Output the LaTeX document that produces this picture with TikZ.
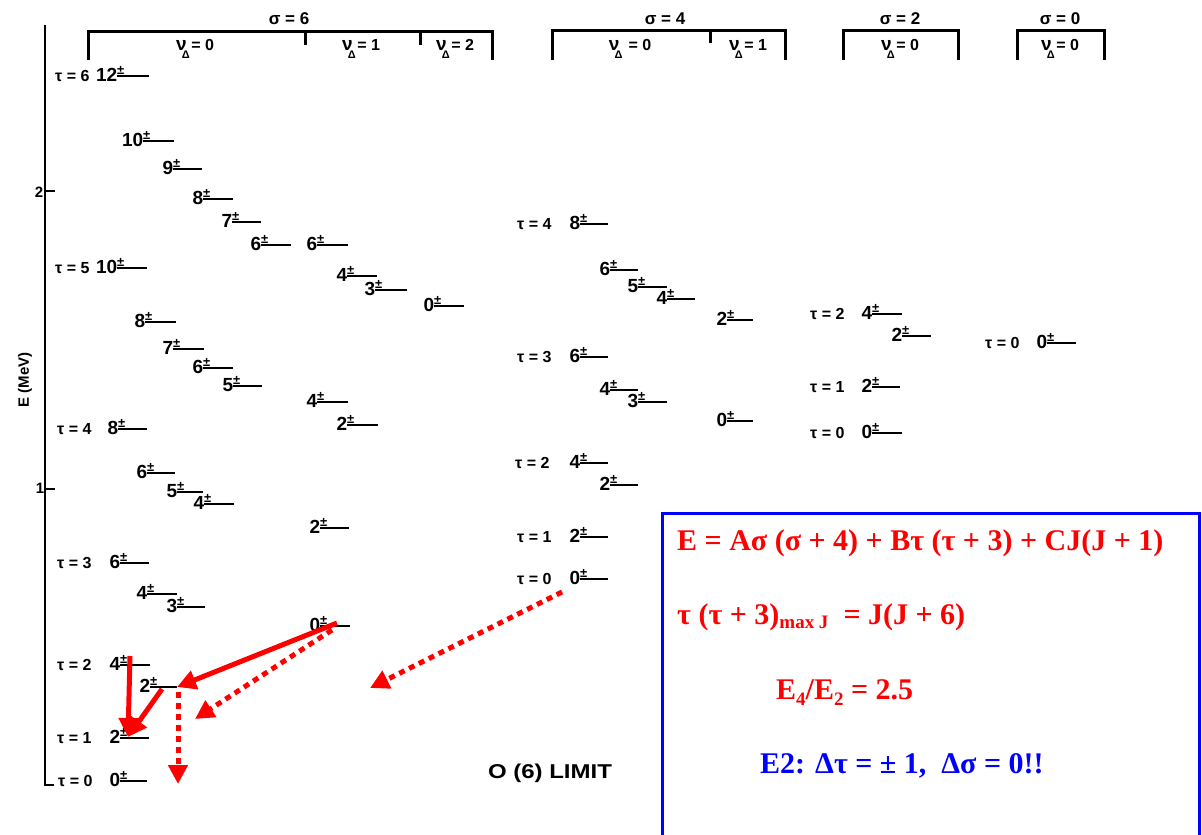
\documentclass[tikz,border=0pt]{standalone}
\usepackage{fontspec}
\setmainfont{Liberation Sans}
\newfontfamily\eqfont{Liberation Serif}
\usetikzlibrary{arrows.meta}
\definecolor{trred}{RGB}{255,0,0}
\definecolor{frameblue}{RGB}{0,0,255}

% one energy level: name, left x, right x, height, spin
\newcommand\lvl[5]{%
  \draw[level] (#2,#4) coordinate (#1w) -- (#3,#4) coordinate (#1e);
  \node[jlab,anchor=base east] (#1j) at (#2+0.5,#4+5) {#5};
  \node[pmlab,anchor=base west] (#1p) at (#2,#4-2) {±};
}
% nu with Delta subscript set just below it
\newcommand\nuD{{\fontsize{19}{19}\selectfont ν}\kern-0.3em\raisebox{-8.5pt}{\fontsize{11}{11}\selectfont Δ}\kern0.1em}

\begin{document}
\begin{tikzpicture}[x=1pt,y=-1pt,
  level/.style={line width=2.5pt},
  bracket/.style={line width=3pt},
  axisline/.style={line width=2.5pt},
  jlab/.style={inner sep=0pt,font=\fontsize{19}{19}\selectfont\bfseries},
  pmlab/.style={inner sep=0pt,font=\fontsize{13}{13}\selectfont\bfseries},
  taulab/.style={inner sep=0pt,anchor=base west,font=\fontsize{16}{16}\selectfont\bfseries},
  headlab/.style={inner sep=0pt,font=\fontsize{17}{17}\selectfont\bfseries},
  sublab/.style={inner sep=0pt,anchor=base,font=\fontsize{16}{16}\selectfont\bfseries},
  ticklab/.style={inner sep=0pt,font=\fontsize{15}{15}\selectfont\bfseries},
  e2/.style={draw=trred,line width=5pt,-{Triangle[length=19pt,width=19pt]}},
  e2dot/.style={e2,dash pattern=on 6pt off 5pt},
  eqred/.style={inner sep=0pt,anchor=base west,text=trred,font=\eqfont\fontsize{30}{30}\selectfont\bfseries},
  eqblue/.style={eqred,text=frameblue},
]
\useasboundingbox (0,0) rectangle (1202,835);
\fill[white] (0,0) rectangle (1202,835);

% energy axis
\draw[axisline] (45,25) -- (45,785) -- (54,785);
\draw[axisline] (45,191) -- (55,191);
\draw[axisline] (45,489) -- (55,489);
\node[ticklab] (tick2) at (39,192) {2};
\node[ticklab] (tick1) at (40,488) {1};
\node[ticklab,rotate=90] (eaxis) at (25,380) {E (MeV)};

% column headers
\draw[bracket] (88,60) -- (88,31) -- (492,31) -- (492,60);
\draw[bracket] (305,31) -- (305,45);
\draw[bracket] (420,31) -- (420,45);
\node[headlab] (sig6) at (289,19) {σ = 6};
\node[sublab] (s6n0) at (195,50) {\nuD= 0};
\node[sublab] (s6n1) at (361,50) {\nuD= 1};
\node[sublab] (s6n2) at (455,50) {\nuD= 2};

\draw[bracket] (552,60) -- (552,30) -- (785,30) -- (785,60);
\draw[bracket] (710,30) -- (710,43);
\node[headlab] (sig4) at (665,19) {σ = 4};
\node[sublab] (s4n0) at (630,50) {\nuD\ = 0};
\node[sublab] (s4n1) at (748,50) {\nuD= 1};

\draw[bracket] (843,60) -- (843,30) -- (958,30) -- (958,60);
\node[headlab] (sig2) at (900,19) {σ = 2};
\node[sublab] (s2n0) at (900,50) {\nuD= 0};

\draw[bracket] (1017,60) -- (1017,30) -- (1104,30) -- (1104,60);
\node[headlab] (sig0) at (1060,19) {σ = 0};
\node[sublab] (s0n0) at (1060,50) {\nuD= 0};

% sigma = 6, nu = 0
\node[taulab] (ta6) at (55,81) {τ = 6};
\lvl{a12}{117}{149}{76}{12}
\lvl{a10}{143}{174}{141}{10}
\lvl{a9}{173}{202}{169}{9}
\lvl{a8}{203}{233}{199}{8}
\lvl{a7}{232}{261}{222}{7}
\lvl{a6}{261}{291}{245}{6}
\node[taulab] (ta5) at (55,273) {τ = 5};
\lvl{b10}{117}{147}{268}{10}
\lvl{b8}{145}{176}{322}{8}
\lvl{b7}{173}{204}{349}{7}
\lvl{b6}{203}{233}{368}{6}
\lvl{b5}{233}{262}{386}{5}
\node[taulab] (ta4) at (57,434) {τ = 4};
\lvl{c8}{118}{147}{429}{8}
\lvl{c6}{147}{175}{473}{6}
\lvl{c5}{177}{203}{492}{5}
\lvl{c4}{204}{234}{504}{4}
\node[taulab] (ta3) at (57,568) {τ = 3};
\lvl{d6}{120}{149}{563}{6}
\lvl{d4}{147}{177}{594}{4}
\lvl{d3}{177}{205}{607}{3}
\node[taulab] (ta2) at (57,670) {τ = 2};
\lvl{e4}{120}{150}{665}{4}
\lvl{e2}{150}{177}{687}{2}
\node[taulab] (ta1) at (57,743) {τ = 1};
\lvl{f2}{120}{149}{738}{2}
\node[taulab] (ta0) at (58,786) {τ = 0};
\lvl{g0}{120}{147}{781}{0}

% sigma = 6, nu = 1 and 2
\lvl{h6}{317}{348}{245}{6}
\lvl{h4}{347}{377}{276}{4}
\lvl{h3}{375}{407}{290}{3}
\lvl{i4}{317}{348}{402}{4}
\lvl{i2}{347}{378}{425}{2}
\lvl{j2}{320}{349}{528}{2}
\lvl{k0}{320}{350}{626}{0}
\lvl{m0}{434}{464}{306}{0}

% sigma = 4
\node[taulab] (tb4) at (517,229) {τ = 4};
\lvl{n8}{580}{608}{224}{8}
\lvl{n6}{610}{638}{270}{6}
\lvl{n5}{638}{667}{287}{5}
\lvl{n4}{667}{695}{299}{4}
\lvl{o2}{727}{753}{320}{2}
\node[taulab] (tb3) at (517,362) {τ = 3};
\lvl{p6}{580}{608}{357}{6}
\lvl{p4}{610}{638}{390}{4}
\lvl{p3}{638}{667}{402}{3}
\lvl{q0}{727}{753}{421}{0}
\node[taulab] (tb2) at (515,468) {τ = 2};
\lvl{r4}{580}{608}{463}{4}
\lvl{r2}{610}{638}{485}{2}
\node[taulab] (tb1) at (517,542) {τ = 1};
\lvl{s2}{580}{608}{537}{2}
\node[taulab] (tb0) at (517,584) {τ = 0};
\lvl{t0}{580}{608}{579}{0}

% sigma = 2
\node[taulab] (tc2) at (810,319) {τ = 2};
\lvl{u4}{872}{902}{314}{4}
\lvl{u2}{902}{931}{336}{2}
\node[taulab] (tc1) at (810,392) {τ = 1};
\lvl{v2}{872}{900}{387}{2}
\node[taulab] (tc0) at (810,438) {τ = 0};
\lvl{w0}{872}{902}{433}{0}

% sigma = 0
\node[taulab] (td0) at (985,348) {τ = 0};
\lvl{x0}{1047}{1076}{343}{0}

\node[inner sep=0pt,font=\fontsize{20}{20}\selectfont\bfseries] (limit) at (550,773) {\scalebox{1.2}[1]{O (6) LIMIT}};

% E2 transitions
\coordinate (q1a) at (130,656);
\coordinate (q1b) at (128,737);
\coordinate (q2a) at (162,689);
\coordinate (q3a) at (337,623);
\coordinate (q3b) at (177,687);
\coordinate (q4a) at (332,630);
\coordinate (q4b) at (195,719);
\coordinate (q5a) at (178,692);
\coordinate (q5b) at (178,784);
\coordinate (q6a) at (562,592);
\coordinate (q6b) at (370,688);
\draw[e2] (q1a) -- (q1b);
\draw[e2] (q2a) -- (q1b);
\draw[e2] (q3a) -- (q3b);
\draw[e2dot] (q4a) -- (q4b);
\draw[e2dot] (q5a) -- (q5b);
\draw[e2dot] (q6a) -- (q6b);

% formula panel
\draw[frameblue,line width=3pt] (662,835) -- (662,513) -- (1199,513) -- (1199,835);
\node[eqred] (eq1) at (677,550) {E = Aσ (σ + 4) + Bτ (τ + 3) + CJ(J + 1)};
\node[eqred] (eq2) at (677,624) {τ (τ + 3)\raisebox{-4.5pt}{\fontsize{19}{19}\selectfont max J}\hspace{15pt}= J(J + 6)};
\node[eqred] (eq3) at (776,699) {E\raisebox{-6pt}{\fontsize{19}{19}\selectfont 4}/E\raisebox{-6pt}{\fontsize{19}{19}\selectfont 2} = 2.5};
\node[eqblue] (eq4) at (760,773) {E2: Δτ = ± 1,\ \ Δσ = 0!!};
\end{tikzpicture}
\end{document}
